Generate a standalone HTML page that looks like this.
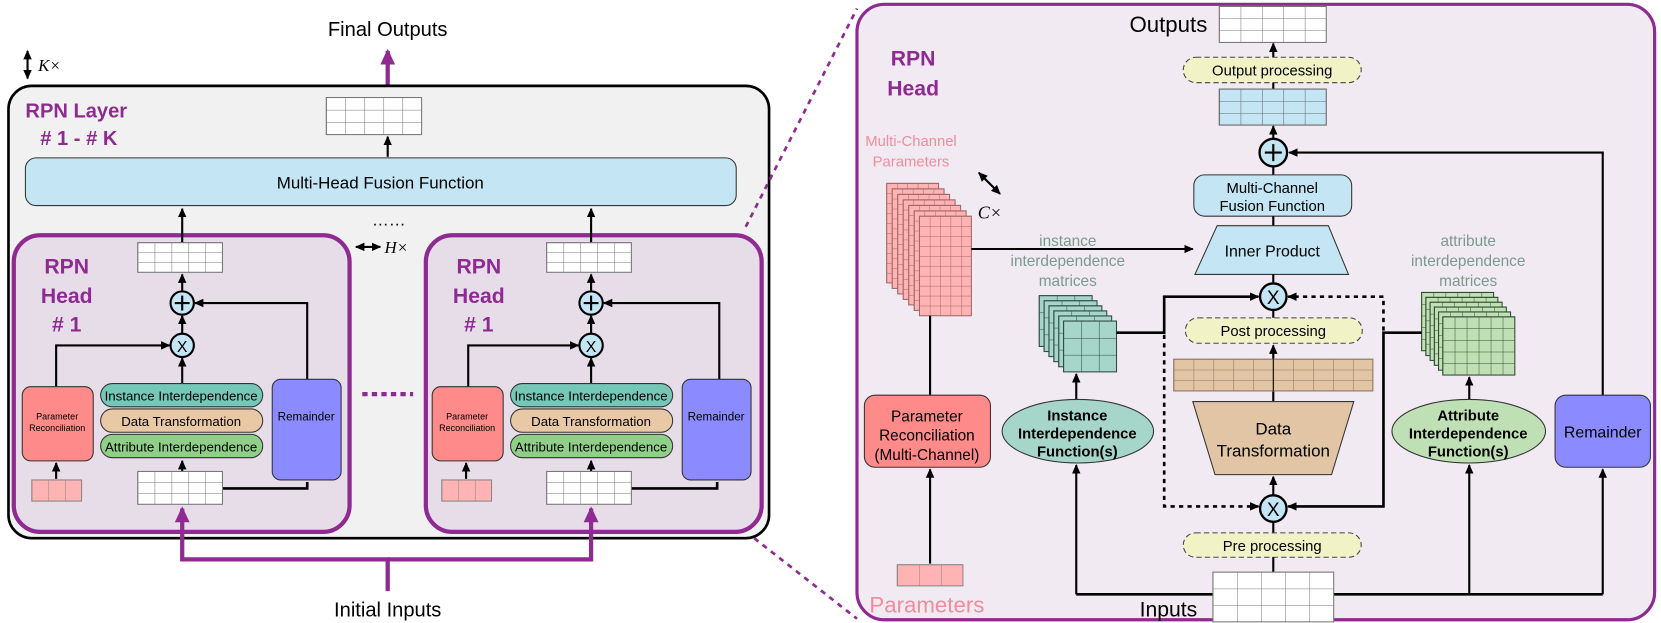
<!DOCTYPE html>
<html><head><meta charset="utf-8"><style>
html,body{margin:0;padding:0;background:#fff;}
svg{display:block;font-family:"Liberation Sans",sans-serif;}
</style></head><body>
<svg width="1661" height="623" viewBox="0 0 1568 588" xmlns="http://www.w3.org/2000/svg">
<defs>
<marker id="ar" markerWidth="10" markerHeight="10" refX="8" refY="5" orient="auto" markerUnits="userSpaceOnUse"><path d="M0,1 L9,5 L0,9 Z" fill="#000"/></marker>
<marker id="as" markerWidth="10" markerHeight="10" refX="1" refY="5" orient="auto" markerUnits="userSpaceOnUse"><path d="M9,1 L0,5 L9,9 Z" fill="#000"/></marker>
<marker id="arp" markerWidth="16" markerHeight="16" refX="13" refY="8" orient="auto" markerUnits="userSpaceOnUse"><path d="M0,1 L15,8 L0,15 Z" fill="#8e2a91"/></marker>
<pattern id="pA" width="18" height="11.667" patternUnits="userSpaceOnUse"><rect width="18" height="11.667" fill="#fff"/><path d="M0 0H18M0 0V11.667" stroke="#777" stroke-width="1"/></pattern>
<pattern id="pH" width="16" height="9.333" patternUnits="userSpaceOnUse"><rect width="16" height="9.333" fill="#fff"/><path d="M0 0H16M0 0V9.333" stroke="#777" stroke-width="1"/></pattern>
<pattern id="pI" width="16" height="10.33" patternUnits="userSpaceOnUse"><rect width="16" height="10.33" fill="#fff"/><path d="M0 0H16M0 0V10.33" stroke="#777" stroke-width="1"/></pattern>
<pattern id="pP" width="15.67" height="20" patternUnits="userSpaceOnUse"><rect width="15.67" height="20" fill="#ffb3b3"/><path d="M0 0H15.67M0 0V20" stroke="#888" stroke-width="1"/></pattern>
<pattern id="pO" width="20.2" height="11.33" patternUnits="userSpaceOnUse"><rect width="20.2" height="11.33" fill="#fff"/><path d="M0 0H20.2M0 0V11.33" stroke="#777" stroke-width="1"/></pattern>
<pattern id="pB" width="20.2" height="11.33" patternUnits="userSpaceOnUse"><rect width="20.2" height="11.33" fill="#c3e5f4"/><path d="M0 0H20.2M0 0V11.33" stroke="#666" stroke-width="1"/></pattern>
<pattern id="pT" width="18.8" height="10" patternUnits="userSpaceOnUse"><rect width="18.8" height="10" fill="#e2c5a5"/><path d="M0 0H18.8M0 0V10" stroke="#8a7560" stroke-width="1"/></pattern>
<pattern id="pIn" width="22.8" height="15.67" patternUnits="userSpaceOnUse"><rect width="22.8" height="15.67" fill="#fff"/><path d="M0 0H22.8M0 0V15.67" stroke="#777" stroke-width="1"/></pattern>
<pattern id="pPar" width="20.67" height="20" patternUnits="userSpaceOnUse"><rect width="20.67" height="20" fill="#ffb3b3"/><path d="M0 0H20.67M0 0V20" stroke="#888" stroke-width="1"/></pattern>
<pattern id="pS" width="9.8" height="9.4" patternUnits="userSpaceOnUse"><rect width="9.8" height="9.4" fill="#ffb3b3"/><path d="M0 0H9.8M0 0V9.4" stroke="#a06868" stroke-width="0.9"/></pattern>
<pattern id="pTe" width="16.7" height="16" patternUnits="userSpaceOnUse"><rect width="16.7" height="16" fill="#a6d5c9"/><path d="M0 0H16.7M0 0V16" stroke="#2f4a44" stroke-width="1"/></pattern>
<pattern id="pG" width="11.33" height="11" patternUnits="userSpaceOnUse"><rect width="11.33" height="11" fill="#bfe0b5"/><path d="M0 0H11.33M0 0V11" stroke="#2f4a2f" stroke-width="0.9"/></pattern>
</defs>

<!-- ============ LEFT ============ -->
<text x="366" y="34" font-size="19" text-anchor="middle">Final Outputs</text>
<line x1="366" y1="80" x2="366" y2="48" stroke="#8e2a91" stroke-width="4" marker-end="url(#arp)"/>
<line x1="26" y1="48" x2="26" y2="74" stroke="#000" stroke-width="2" marker-end="url(#ar)" marker-start="url(#as)"/>
<text x="36" y="67" font-size="16" font-style="italic" font-family="Liberation Serif,serif">K×</text>

<rect x="8" y="81" width="718" height="427" rx="22" fill="#f1f1f1" stroke="#000" stroke-width="2.5"/>
<text x="24" y="111" font-size="19" font-weight="bold" fill="#8e2a91">RPN Layer</text>
<text x="38" y="137" font-size="19" font-weight="bold" fill="#8e2a91"># 1 - # K</text>
<g transform="translate(308,92)"><rect width="90" height="35" fill="url(#pA)" stroke="#777"/></g>
<line x1="366" y1="148" x2="366" y2="129" stroke="#000" stroke-width="2" marker-end="url(#ar)"/>
<rect x="24" y="149" width="671" height="45" rx="10" fill="#c3e5f4" stroke="#333" stroke-width="1"/>
<text x="359" y="178" font-size="16" text-anchor="middle">Multi-Head Fusion Function</text>
<text x="367" y="213" font-size="16" text-anchor="middle">……</text>
<line x1="336" y1="233" x2="359" y2="233" stroke="#000" stroke-width="2" marker-end="url(#ar)" marker-start="url(#as)"/>
<text x="363" y="239" font-size="16" font-style="italic" font-family="Liberation Serif,serif">H×</text>
<line x1="342" y1="372" x2="390" y2="372" stroke="#8e2a91" stroke-width="4" stroke-dasharray="5,4"/>

<!-- head 1 -->
<g>
<rect x="13" y="222" width="317" height="280" rx="25" fill="#e7dde9" stroke="#8e2a91" stroke-width="4"/>
<text x="63" y="258" font-size="20" font-weight="bold" fill="#8e2a91" text-anchor="middle">RPN</text>
<text x="63" y="286" font-size="20" font-weight="bold" fill="#8e2a91" text-anchor="middle">Head</text>
<text x="63" y="313" font-size="20" font-weight="bold" fill="#8e2a91" text-anchor="middle"># 1</text>
<line x1="172" y1="229" x2="172" y2="197" stroke="#000" stroke-width="2" marker-end="url(#ar)"/>
<g transform="translate(130,229)"><rect width="80" height="28" fill="url(#pH)" stroke="#777"/></g>
<line x1="172" y1="275" x2="172" y2="259" stroke="#000" stroke-width="2" marker-end="url(#ar)"/>
<line x1="172" y1="315" x2="172" y2="298" stroke="#000" stroke-width="2" marker-end="url(#ar)"/>
<line x1="172" y1="362" x2="172" y2="338" stroke="#000" stroke-width="2" marker-end="url(#ar)"/>
<circle cx="172" cy="286" r="11" fill="#c3e5f4" stroke="#000" stroke-width="2"/>
<path d="M165 286H179M172 279V293" stroke="#000" stroke-width="2"/>
<circle cx="172" cy="326" r="11" fill="#c3e5f4" stroke="#000" stroke-width="2"/>
<text x="172" y="332" font-size="15" text-anchor="middle">X</text>
<polyline points="53,365 53,326 160,326" fill="none" stroke="#000" stroke-width="2" marker-end="url(#ar)"/>
<polyline points="290,358 290,286 184,286" fill="none" stroke="#000" stroke-width="2" marker-end="url(#ar)"/>
<rect x="21" y="365" width="67" height="70" rx="8" fill="#ff8a8a" stroke="#333"/>
<text x="54" y="396" font-size="8.5" text-anchor="middle">Parameter</text>
<text x="54" y="407" font-size="8.5" text-anchor="middle">Reconciliation</text>
<rect x="95" y="362" width="153" height="22" rx="11" fill="#75c8b8" stroke="#333"/>
<text x="171" y="378" font-size="12.5" text-anchor="middle">Instance Interdependence</text>
<rect x="95" y="386" width="153" height="22" rx="11" fill="#e9c9a5" stroke="#333"/>
<text x="171" y="402" font-size="12.5" text-anchor="middle">Data Transformation</text>
<rect x="95" y="410" width="153" height="22" rx="11" fill="#8fcf87" stroke="#333"/>
<text x="171" y="426" font-size="12.5" text-anchor="middle">Attribute Interdependence</text>
<rect x="257" y="358" width="65" height="95" rx="8" fill="#8b8bff" stroke="#333"/>
<text x="289" y="397" font-size="11" text-anchor="middle">Remainder</text>
<line x1="53" y1="452" x2="53" y2="437" stroke="#000" stroke-width="2" marker-end="url(#ar)"/>
<line x1="172" y1="445" x2="172" y2="435" stroke="#000" stroke-width="2" marker-end="url(#ar)"/>
<polyline points="210,461 290,461 290,455" fill="none" stroke="#000" stroke-width="2.5"/>
<g transform="translate(30,453)"><rect width="47" height="20" fill="url(#pP)" stroke="#888"/></g>
<g transform="translate(130,445)"><rect width="80" height="31" fill="url(#pI)" stroke="#777"/></g>
</g>
<!-- head 2 -->
<g transform="translate(389,0)">
<rect x="13" y="222" width="317" height="280" rx="25" fill="#e7dde9" stroke="#8e2a91" stroke-width="4"/>
<text x="63" y="258" font-size="20" font-weight="bold" fill="#8e2a91" text-anchor="middle">RPN</text>
<text x="63" y="286" font-size="20" font-weight="bold" fill="#8e2a91" text-anchor="middle">Head</text>
<text x="63" y="313" font-size="20" font-weight="bold" fill="#8e2a91" text-anchor="middle"># 1</text>
<line x1="169" y1="229" x2="169" y2="197" stroke="#000" stroke-width="2" marker-end="url(#ar)"/>
<g transform="translate(127,229)"><rect width="80" height="28" fill="url(#pH)" stroke="#777"/></g>
<line x1="169" y1="275" x2="169" y2="259" stroke="#000" stroke-width="2" marker-end="url(#ar)"/>
<line x1="169" y1="315" x2="169" y2="298" stroke="#000" stroke-width="2" marker-end="url(#ar)"/>
<line x1="169" y1="362" x2="169" y2="338" stroke="#000" stroke-width="2" marker-end="url(#ar)"/>
<circle cx="169" cy="286" r="11" fill="#c3e5f4" stroke="#000" stroke-width="2"/>
<path d="M162 286H176M169 279V293" stroke="#000" stroke-width="2"/>
<circle cx="169" cy="326" r="11" fill="#c3e5f4" stroke="#000" stroke-width="2"/>
<text x="169" y="332" font-size="15" text-anchor="middle">X</text>
<polyline points="53,365 53,326 157,326" fill="none" stroke="#000" stroke-width="2" marker-end="url(#ar)"/>
<polyline points="290,358 290,286 181,286" fill="none" stroke="#000" stroke-width="2" marker-end="url(#ar)"/>
<rect x="19" y="365" width="67" height="70" rx="8" fill="#ff8a8a" stroke="#333"/>
<text x="52" y="396" font-size="8.5" text-anchor="middle">Parameter</text>
<text x="52" y="407" font-size="8.5" text-anchor="middle">Reconciliation</text>
<rect x="93" y="362" width="153" height="22" rx="11" fill="#75c8b8" stroke="#333"/>
<text x="169" y="378" font-size="12.5" text-anchor="middle">Instance Interdependence</text>
<rect x="93" y="386" width="153" height="22" rx="11" fill="#e9c9a5" stroke="#333"/>
<text x="169" y="402" font-size="12.5" text-anchor="middle">Data Transformation</text>
<rect x="93" y="410" width="153" height="22" rx="11" fill="#8fcf87" stroke="#333"/>
<text x="169" y="426" font-size="12.5" text-anchor="middle">Attribute Interdependence</text>
<rect x="255" y="358" width="65" height="95" rx="8" fill="#8b8bff" stroke="#333"/>
<text x="287" y="397" font-size="11" text-anchor="middle">Remainder</text>
<line x1="51" y1="452" x2="51" y2="437" stroke="#000" stroke-width="2" marker-end="url(#ar)"/>
<line x1="169" y1="445" x2="169" y2="435" stroke="#000" stroke-width="2" marker-end="url(#ar)"/>
<polyline points="207,461 288,461 288,455" fill="none" stroke="#000" stroke-width="2.5"/>
<g transform="translate(28,453)"><rect width="47" height="20" fill="url(#pP)" stroke="#888"/></g>
<g transform="translate(127,445)"><rect width="80" height="31" fill="url(#pI)" stroke="#777"/></g>
</g>

<!-- initial inputs -->
<polyline points="366,558 366,528 172,528 172,480" fill="none" stroke="#8e2a91" stroke-width="4" marker-end="url(#arp)"/>
<polyline points="366,528 558,528 558,480" fill="none" stroke="#8e2a91" stroke-width="4" marker-end="url(#arp)"/>
<text x="366" y="582" font-size="19" text-anchor="middle">Initial Inputs</text>

<!-- dashed connectors -->
<line x1="704" y1="214" x2="809" y2="8" stroke="#8e2a91" stroke-width="2.5" stroke-dasharray="5,5"/>
<line x1="712" y1="508" x2="809" y2="584" stroke="#8e2a91" stroke-width="2.5" stroke-dasharray="5,5"/>

<!-- ============ RIGHT ============ -->
<rect x="809" y="4" width="753" height="581" rx="26" fill="#f2eaf2" stroke="#8e2a91" stroke-width="3"/>
<text x="862" y="62" font-size="20" font-weight="bold" fill="#8e2a91" text-anchor="middle">RPN</text>
<text x="862" y="90" font-size="20" font-weight="bold" fill="#8e2a91" text-anchor="middle">Head</text>

<text x="1103" y="30" font-size="21" text-anchor="middle">Outputs</text>
<g transform="translate(1151,6)"><rect width="101" height="34" fill="url(#pO)" stroke="#777"/></g>
<line x1="1202" y1="54" x2="1202" y2="41" stroke="#000" stroke-width="2" marker-end="url(#ar)"/>
<rect x="1117" y="54" width="168" height="24" rx="12" fill="#f1f3c6" stroke="#444" stroke-dasharray="5,3"/>
<text x="1201" y="71" font-size="14" text-anchor="middle">Output processing</text>
<line x1="1202" y1="78" x2="1202" y2="84" stroke="#000" stroke-width="2"/>
<g transform="translate(1151,84)"><rect width="101" height="34" fill="url(#pB)" stroke="#666"/></g>
<line x1="1202" y1="131" x2="1202" y2="119" stroke="#000" stroke-width="2" marker-end="url(#ar)"/>
<circle cx="1202" cy="144" r="13" fill="#c3e5f4" stroke="#000" stroke-width="2.2"/>
<path d="M1194 144H1210M1202 136V152" stroke="#000" stroke-width="2"/>
<line x1="1202" y1="157" x2="1202" y2="165" stroke="#000" stroke-width="2"/>
<rect x="1127" y="165" width="149" height="39" rx="10" fill="#c3e5f4" stroke="#333"/>
<text x="1201" y="182" font-size="14" text-anchor="middle">Multi-Channel</text>
<text x="1201" y="199" font-size="14" text-anchor="middle">Fusion Function</text>
<line x1="1202" y1="204" x2="1202" y2="213" stroke="#000" stroke-width="2"/>
<polygon points="1149,213 1254,213 1273,259 1128,259" fill="#c3e5f4" stroke="#333"/>
<text x="1201" y="242" font-size="15" text-anchor="middle">Inner Product</text>
<line x1="1202" y1="259" x2="1202" y2="267" stroke="#000" stroke-width="2"/>
<circle cx="1202" cy="280" r="12.5" fill="#c3e5f4" stroke="#000" stroke-width="2.2"/>
<text x="1202" y="287" font-size="18" text-anchor="middle">X</text>
<line x1="1202" y1="293" x2="1202" y2="300" stroke="#000" stroke-width="2"/>
<rect x="1119" y="300" width="167" height="24" rx="12" fill="#f1f3c6" stroke="#444" stroke-dasharray="5,3"/>
<text x="1202" y="317" font-size="14" text-anchor="middle">Post processing</text>
<line x1="1202" y1="379" x2="1202" y2="326" stroke="#000" stroke-width="2" marker-end="url(#ar)"/>
<g transform="translate(1108,339)"><rect width="188" height="30" fill="url(#pT)" stroke="#8a7560"/></g>
<line x1="1202" y1="339" x2="1202" y2="369" stroke="#000" stroke-width="1"/>
<polygon points="1126,379 1278,379 1257,448 1147,448" fill="#e2c5a5" stroke="#333"/>
<text x="1202" y="410" font-size="16" text-anchor="middle">Data</text>
<text x="1202" y="431" font-size="16" text-anchor="middle">Transformation</text>
<line x1="1202" y1="467" x2="1202" y2="450" stroke="#000" stroke-width="2" marker-end="url(#ar)"/>
<circle cx="1202" cy="480" r="12.5" fill="#c3e5f4" stroke="#000" stroke-width="2.2"/>
<text x="1202" y="487" font-size="18" text-anchor="middle">X</text>
<line x1="1202" y1="493" x2="1202" y2="503" stroke="#000" stroke-width="2"/>
<rect x="1117" y="503" width="168" height="23" rx="11.5" fill="#f1f3c6" stroke="#444" stroke-dasharray="5,3"/>
<text x="1201" y="520" font-size="14" text-anchor="middle">Pre processing</text>
<line x1="1202" y1="526" x2="1202" y2="540" stroke="#000" stroke-width="2"/>

<!-- bottom input line -->
<polyline points="1016,561 1513,561" fill="none" stroke="#000" stroke-width="2.5"/>
<g transform="translate(1145,540)"><rect width="114" height="47" fill="url(#pIn)" stroke="#777"/></g>
<text x="1103" y="582" font-size="20" text-anchor="middle">Inputs</text>
<line x1="1016" y1="561" x2="1016" y2="439" stroke="#000" stroke-width="2" marker-end="url(#ar)"/>
<line x1="1387" y1="561" x2="1387" y2="439" stroke="#000" stroke-width="2" marker-end="url(#ar)"/>
<line x1="1513" y1="561" x2="1513" y2="443" stroke="#000" stroke-width="2" marker-end="url(#ar)"/>
<polyline points="1513,373 1513,144 1217,144" fill="none" stroke="#000" stroke-width="2" marker-end="url(#ar)"/>

<!-- parameters side -->
<text x="860" y="138" font-size="14" fill="#f08c9c" text-anchor="middle">Multi-Channel</text>
<text x="860" y="157" font-size="14" fill="#f08c9c" text-anchor="middle">Parameters</text>
<line x1="924" y1="163" x2="944" y2="183" stroke="#000" stroke-width="2" marker-end="url(#ar)" marker-start="url(#as)"/>
<text x="923" y="206" font-size="17" font-style="italic" font-family="Liberation Serif,serif">C×</text>
<g transform="translate(837,173)"><rect width="49" height="94" fill="url(#pS)" stroke="#a06868"/></g>
<g transform="translate(842.2,178.2)"><rect width="49" height="94" fill="url(#pS)" stroke="#a06868"/></g>
<g transform="translate(847.4,183.4)"><rect width="49" height="94" fill="url(#pS)" stroke="#a06868"/></g>
<g transform="translate(852.6,188.6)"><rect width="49" height="94" fill="url(#pS)" stroke="#a06868"/></g>
<g transform="translate(857.8,193.8)"><rect width="49" height="94" fill="url(#pS)" stroke="#a06868"/></g>
<g transform="translate(863,199)"><rect width="49" height="94" fill="url(#pS)" stroke="#a06868"/></g>
<g transform="translate(868,204)"><rect width="49" height="94" fill="url(#pS)" stroke="#a06868"/></g>
<line x1="917" y1="235" x2="1126" y2="235" stroke="#000" stroke-width="2" marker-end="url(#ar)"/>
<line x1="878" y1="298" x2="878" y2="373" stroke="#000" stroke-width="2"/>
<rect x="816" y="373" width="119" height="68" rx="10" fill="#ff8a8a" stroke="#333"/>
<text x="875" y="398" font-size="14.5" text-anchor="middle">Parameter</text>
<text x="875" y="416" font-size="14.5" text-anchor="middle">Reconciliation</text>
<text x="875" y="434" font-size="14.5" text-anchor="middle">(Multi-Channel)</text>
<line x1="878" y1="532" x2="878" y2="443" stroke="#000" stroke-width="2" marker-end="url(#ar)"/>
<g transform="translate(847,533)"><rect width="62" height="20" fill="url(#pPar)" stroke="#888"/></g>
<text x="875" y="578" font-size="21" fill="#f08c9c" text-anchor="middle">Parameters</text>

<!-- instance -->
<text x="1008" y="232" font-size="14.5" fill="#7a9a8e" text-anchor="middle">instance</text>
<text x="1008" y="251" font-size="14.5" fill="#7a9a8e" text-anchor="middle">interdependence</text>
<text x="1008" y="270" font-size="14.5" fill="#7a9a8e" text-anchor="middle">matrices</text>
<g transform="translate(981,279)"><rect width="50" height="48" fill="url(#pTe)" stroke="#2f4a44"/></g>
<g transform="translate(985.6,283.8)"><rect width="50" height="48" fill="url(#pTe)" stroke="#2f4a44"/></g>
<g transform="translate(990.2,288.6)"><rect width="50" height="48" fill="url(#pTe)" stroke="#2f4a44"/></g>
<g transform="translate(994.8,293.4)"><rect width="50" height="48" fill="url(#pTe)" stroke="#2f4a44"/></g>
<g transform="translate(999.4,298.2)"><rect width="50" height="48" fill="url(#pTe)" stroke="#2f4a44"/></g>
<g transform="translate(1004,303)"><rect width="50" height="48" fill="url(#pTe)" stroke="#2f4a44"/></g>
<polyline points="1054,314 1099,314 1099,280 1188,280" fill="none" stroke="#000" stroke-width="2.5" marker-end="url(#ar)"/>
<polyline points="1099,316 1099,478 1188,478" fill="none" stroke="#000" stroke-width="2.5" stroke-dasharray="4,4" marker-end="url(#ar)"/>
<line x1="1016" y1="377" x2="1016" y2="353" stroke="#000" stroke-width="2" marker-end="url(#ar)"/>
<ellipse cx="1017.5" cy="407" rx="71.5" ry="30" fill="#a6d5c9" stroke="#333"/>
<text x="1017" y="397" font-size="14" font-weight="bold" text-anchor="middle">Instance</text>
<text x="1017" y="414" font-size="14" font-weight="bold" text-anchor="middle">Interdependence</text>
<text x="1017" y="431" font-size="14" font-weight="bold" text-anchor="middle">Function(s)</text>

<!-- attribute -->
<text x="1386" y="232" font-size="14.5" fill="#7a9a8e" text-anchor="middle">attribute</text>
<text x="1386" y="251" font-size="14.5" fill="#7a9a8e" text-anchor="middle">interdependence</text>
<text x="1386" y="270" font-size="14.5" fill="#7a9a8e" text-anchor="middle">matrices</text>
<g transform="translate(1342,276)"><rect width="68" height="55" fill="url(#pG)" stroke="#2f4a2f"/></g>
<g transform="translate(1346,280.6)"><rect width="68" height="55" fill="url(#pG)" stroke="#2f4a2f"/></g>
<g transform="translate(1350,285.2)"><rect width="68" height="55" fill="url(#pG)" stroke="#2f4a2f"/></g>
<g transform="translate(1354,289.8)"><rect width="68" height="55" fill="url(#pG)" stroke="#2f4a2f"/></g>
<g transform="translate(1358,294.4)"><rect width="68" height="55" fill="url(#pG)" stroke="#2f4a2f"/></g>
<g transform="translate(1362,299)"><rect width="68" height="55" fill="url(#pG)" stroke="#2f4a2f"/></g>
<polyline points="1342,314 1306,314 1306,478 1216,478" fill="none" stroke="#000" stroke-width="2.5" marker-end="url(#ar)"/>
<polyline points="1306,312 1306,280 1216,280" fill="none" stroke="#000" stroke-width="2.5" stroke-dasharray="4,4" marker-end="url(#ar)"/>
<line x1="1387" y1="377" x2="1387" y2="356" stroke="#000" stroke-width="2" marker-end="url(#ar)"/>
<ellipse cx="1386.5" cy="407" rx="72.5" ry="30" fill="#bfe0b5" stroke="#333"/>
<text x="1386" y="397" font-size="14" font-weight="bold" text-anchor="middle">Attribute</text>
<text x="1386" y="414" font-size="14" font-weight="bold" text-anchor="middle">Interdependence</text>
<text x="1386" y="431" font-size="14" font-weight="bold" text-anchor="middle">Function(s)</text>

<rect x="1468" y="373" width="90" height="68" rx="10" fill="#8b8bff" stroke="#333"/>
<text x="1513" y="413" font-size="15" text-anchor="middle">Remainder</text>
</svg>
</body></html>
